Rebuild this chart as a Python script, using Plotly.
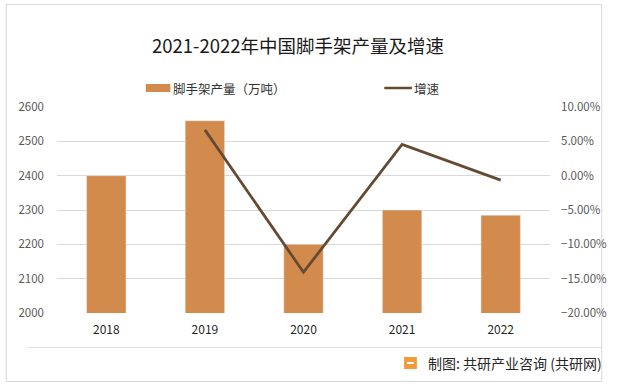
import plotly.graph_objects as go

years = ["2018", "2019", "2020", "2021", "2022"]
output = [2400, 2560, 2200, 2300, 2285]
growth_years = ["2019", "2020", "2021", "2022"]
growth = [6.67, -14.06, 4.55, -0.65]

W, H = 619, 387
L, R, T, B = 57, 62, 107, 74
pw, ph = W - L - R, H - T - B

def px(x):
    return (x - L) / pw

def py(y):
    return (H - B - y) / ph

bar_color = "#D38B4D"
line_color = "#654A33"
font_family = "Noto Sans CJK SC, Microsoft YaHei, sans-serif"

fig = go.Figure()
fig.add_trace(go.Bar(x=years, y=output, name="脚手架产量（万吨）", marker_color=bar_color,
                     width=0.4, showlegend=False))
fig.add_trace(go.Scatter(x=growth_years, y=growth, name="增速", mode="lines",
                         line=dict(color=line_color, width=2.75), yaxis="y2", showlegend=False))

shapes = [
    dict(type="rect", xref="paper", yref="paper", x0=px(5.5), x1=px(609.5), y0=py(381.5), y1=py(4.5),
         line=dict(color="#D9D9D9", width=1), fillcolor="rgba(0,0,0,0)", layer="below"),
    dict(type="line", xref="paper", yref="paper", x0=px(27), x1=px(609), y0=py(347.5), y1=py(347.5),
         line=dict(color="#E3E3E3", width=1)),
    # legend swatches
    dict(type="rect", xref="paper", yref="paper", x0=px(147), x1=px(172), y0=py(92), y1=py(84),
         fillcolor=bar_color, line=dict(width=0)),
    dict(type="line", xref="paper", yref="paper", x0=px(389), x1=px(417), y0=py(88), y1=py(88),
         line=dict(color=line_color, width=2.5)),
    # logo
    dict(type="rect", xref="paper", yref="paper", x0=px(409), x1=px(422), y0=py(369), y1=py(357),
         fillcolor="#F39A3C", line=dict(width=0)),
    dict(type="rect", xref="paper", yref="paper", x0=px(412), x1=px(419), y0=py(364), y1=py(362),
         fillcolor="white", line=dict(width=0)),
]

annotations = [
    dict(text="2021-2022年中国脚手架产量及增速", xref="paper", yref="paper", x=px(301), y=py(45),
         showarrow=False, font=dict(size=18.5, color="#1a1a1a", family=font_family),
         xanchor="center", yanchor="middle"),
    dict(text="脚手架产量（万吨）", xref="paper", yref="paper", x=px(173), y=py(88),
         showarrow=False, font=dict(size=12.5, color="#333333", family=font_family),
         xanchor="left", yanchor="middle"),
    dict(text="增速", xref="paper", yref="paper", x=px(417), y=py(88),
         showarrow=False, font=dict(size=12.5, color="#333333", family=font_family),
         xanchor="left", yanchor="middle"),
    dict(text="制图: 共研产业咨询 (共研网)", xref="paper", yref="paper", x=px(431), y=py(363),
         showarrow=False, font=dict(size=14, color="#262626", family=font_family),
         xanchor="left", yanchor="middle"),
]

fig.update_layout(
    width=W, height=H,
    margin=dict(l=L, r=R, t=T, b=B, pad=0),
    paper_bgcolor="white", plot_bgcolor="white",
    font=dict(family=font_family, color="#595959", size=11),
    xaxis=dict(showgrid=False, showline=False, ticks="", ticklabelstandoff=8,
               tickfont=dict(size=12, color="#262626")),
    yaxis=dict(range=[2000, 2600], dtick=100, showgrid=True, gridcolor="#D9D9D9", gridwidth=1,
               zeroline=False, showline=False, ticks="", ticklabelstandoff=12,
               tickfont=dict(size=11.5, color="#595959")),
    yaxis2=dict(range=[-20, 10], dtick=5, overlaying="y", side="right", showgrid=False,
                zeroline=False, showline=False, tickformat=".2f", ticksuffix="%",
                ticklabelstandoff=10, tickfont=dict(size=11.5, color="#595959")),
    shapes=shapes, annotations=annotations, bargap=0.6, showlegend=False,
)

fig.write_html("out.html", config={"displayModeBar": False},
               post_script="document.body.style.margin='0';document.body.style.overflow='hidden';")
